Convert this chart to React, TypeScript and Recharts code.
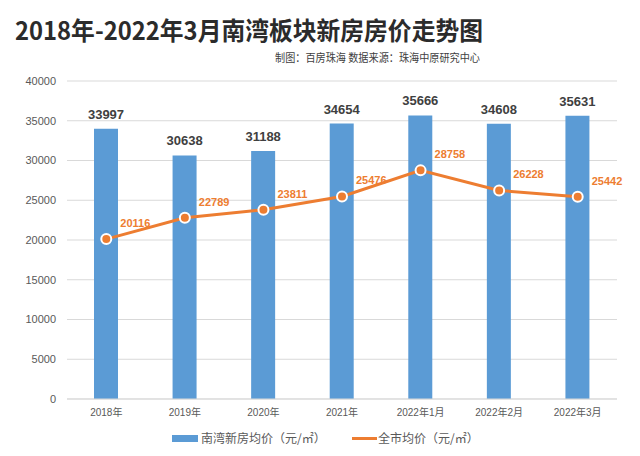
import React from 'react';
import { ComposedChart, Bar, Line, XAxis, YAxis, CartesianGrid, LabelList, Legend } from 'recharts';

const categories = ['2018年', '2019年', '2020年', '2021年', '2022年1月', '2022年2月', '2022年3月'];
const nanwanPrice = [33997, 30638, 31188, 34654, 35666, 34608, 35631];
const cityPrice = [20116, 22789, 23811, 25476, 28758, 26228, 25442];
const yTicks = [0, 5000, 10000, 15000, 20000, 25000, 30000, 35000, 40000];

const data = categories.map((c, i) => ({ name: c, nanwan: nanwanPrice[i], city: cityPrice[i] }));

const BLUE = '#5B9BD5';
const ORANGE = '#ED7D31';
const FONT = '"Liberation Sans", Arial, "Noto Sans CJK SC", sans-serif';
const CJK = '"Noto Sans CJK SC", "Liberation Sans", sans-serif';

const LineLabel = (props: any) => {
  const { x, y, value } = props;
  return (
    <text x={x + 14} y={y - 15} fill={ORANGE} fontSize={11} fontWeight="bold" fontFamily={FONT} dominantBaseline="middle">
      {value}
    </text>
  );
};

const LegendContent = () => (
  <div style={{ position: 'relative', width: 640, height: 20, fontFamily: CJK, fontSize: 12, color: '#595959' }}>
    <div style={{ position: 'absolute', left: 172, top: 7, width: 26, height: 7, background: BLUE }} />
    <div style={{ position: 'absolute', left: 201, top: 0, lineHeight: '20px', whiteSpace: 'nowrap' }}>南湾新房均价（元/㎡）</div>
    <div style={{ position: 'absolute', left: 352, top: 9, width: 25, height: 3, background: ORANGE }} />
    <div style={{ position: 'absolute', left: 378, top: 0, lineHeight: '20px', whiteSpace: 'nowrap' }}>全市均价（元/㎡）</div>
  </div>
);

export default function App() {
  return (
    <div style={{ position: 'fixed', left: 0, top: 0, width: 640, height: 456, background: '#fff' }}>
      <svg width={640} height={70} style={{ position: 'absolute', left: 0, top: 0 }}>
        <text x={15} y={40} fontSize={25} fontWeight="bold" fill="#2b2b2b" fontFamily={CJK} textLength={468} lengthAdjust="spacingAndGlyphs">
          2018年-2022年3月南湾板块新房房价走势图
        </text>
        <text x={275} y={62} fontSize={11} fill="#404040" fontFamily={CJK} textLength={205} lengthAdjust="spacingAndGlyphs">
          制图：百房珠海 数据来源：珠海中原研究中心
        </text>
      </svg>
      <div style={{ position: 'absolute', left: 0, top: 0 }}>
        <ComposedChart width={640} height={456} data={data} margin={{ top: 81, right: 23, left: 9, bottom: 27 }}>
          <CartesianGrid horizontal vertical={false} stroke="#D9D9D9" />
          <XAxis
            dataKey="name"
            height={30}
            tickLine={false}
            axisLine={{ stroke: '#D9D9D9' }}
            tickSize={0}
            tickMargin={10}
            tick={{ fontSize: 10, fill: '#595959', fontFamily: FONT }}
            interval={0}
          />
          <YAxis
            width={58}
            domain={[0, 40000]}
            ticks={yTicks}
            axisLine={false}
            tickLine={false}
            tickSize={0}
            tickMargin={11}
            tick={{ fontSize: 11, fill: '#595959', fontFamily: FONT }}
          />
          <Bar dataKey="nanwan" fill={BLUE} barSize={24} isAnimationActive={false}>
            <LabelList dataKey="nanwan" position="top" offset={10} fill="#404040" fontSize={13} fontWeight="bold" fontFamily={FONT} />
          </Bar>
          <Line
            dataKey="city"
            stroke={ORANGE}
            strokeWidth={3}
            dot={{ r: 5, fill: ORANGE, stroke: '#fff', strokeWidth: 2 }}
            isAnimationActive={false}
          >
            <LabelList dataKey="city" content={<LineLabel />} />
          </Line>
          <Legend
            layout="vertical"
            verticalAlign="middle"
            align="center"
            content={<LegendContent />}
            wrapperStyle={{ position: 'absolute', left: 0, top: 428, width: 640 }}
          />
        </ComposedChart>
      </div>
    </div>
  );
}
